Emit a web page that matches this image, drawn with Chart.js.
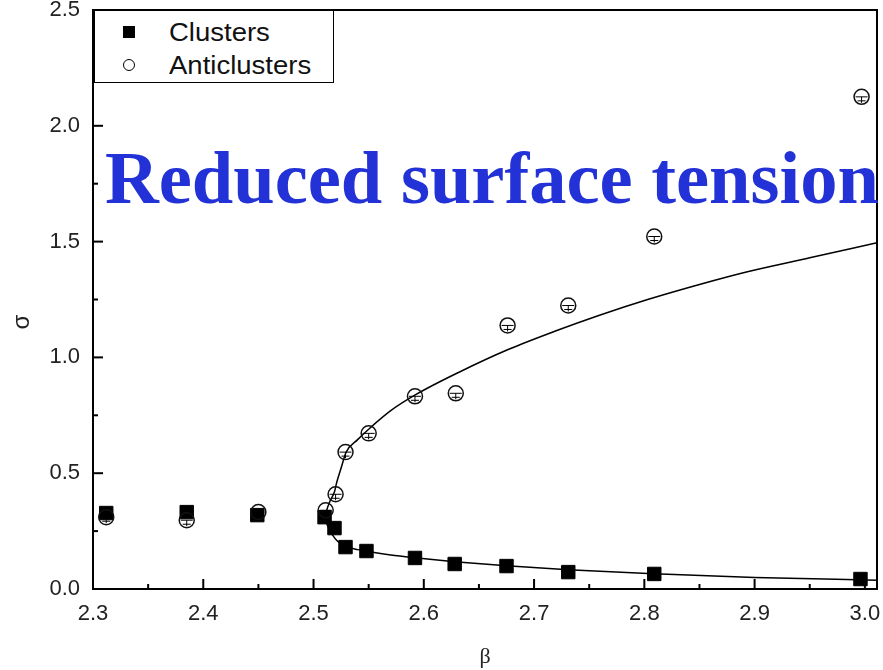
<!DOCTYPE html>
<html>
<head>
<meta charset="utf-8">
<script src="https://cdn.jsdelivr.net/npm/chart.js@4.4.0/dist/chart.umd.min.js"></script>
<style>
  body { margin: 0; background: #fff; }
  #wrap { position: relative; width: 883px; height: 670px; }
  #legend { position: absolute; left: 94px; top: 11px; width: 238px; height: 71px;
            border: 1.5px solid #000; border-top: none; background: #fff;
            font-family: "Liberation Sans", Arial, sans-serif; font-size: 25px; color: #111; }
  .row { position: absolute; left: 0; height: 30px; line-height: 30px; }
  .row span { position: absolute; left: 74px; white-space: nowrap; transform: scaleX(1.1); transform-origin: left center; }
  .sq { position: absolute; left: 28px; top: 9px; width: 12px; height: 12px; background: #000; }
  .ci { position: absolute; left: 28px; top: 9px; width: 10px; height: 10px; border: 1.5px solid #000; border-radius: 50%; }
  #big { position: absolute; left: 105px; top: 141px; font-family: "Liberation Serif", "Times New Roman", serif;
         font-weight: bold; font-size: 74.5px; line-height: 74px; color: rgb(35, 50, 215); white-space: nowrap; }
  #ylab { position: absolute; left: 8px; top: 308px; width: 26px; height: 28px; text-align: center;
          font-family: "Liberation Sans", Arial, sans-serif; font-size: 24px; line-height: 28px; color: #222;
          transform: rotate(-90deg); }
</style>
</head>
<body>
<div id="wrap">
  <canvas id="grafico" width="883" height="670"></canvas>
  <div id="legend">
    <div class="row" style="top:6px"><div class="sq"></div><span>Clusters</span></div>
    <div class="row" style="top:39px"><div class="ci"></div><span>Anticlusters</span></div>
  </div>
  <div id="big">Reduced surface tension</div>
  <div id="ylab">σ</div>
</div>
<script>
// datos
const betaClusters = [2.312, 2.385, 2.449, 2.510, 2.519, 2.529, 2.548, 2.592, 2.628, 2.675, 2.731, 2.809, 2.996];
const sigmaClusters = [0.328, 0.332, 0.319, 0.310, 0.263, 0.181, 0.164, 0.134, 0.108, 0.099, 0.073, 0.065, 0.043];
const betaAnti = [2.312, 2.385, 2.450, 2.511, 2.520, 2.529, 2.550, 2.592, 2.629, 2.676, 2.731, 2.809, 2.997];
const sigmaAnti = [0.310, 0.297, 0.332, 0.340, 0.409, 0.591, 0.672, 0.832, 0.845, 1.138, 1.224, 1.522, 2.125];

// curvas de ajuste (rama superior e inferior)
const betaFitUp = [2.5105, 2.512, 2.515, 2.519, 2.521, 2.5255, 2.5295, 2.540, 2.550, 2.570, 2.593, 2.6315, 2.677, 2.720, 2.758, 2.803, 2.850, 2.8935, 2.950, 3.011];
const sigmaFitUp = [0.30, 0.34, 0.38, 0.42, 0.46, 0.53, 0.59, 0.645, 0.69, 0.77, 0.84, 0.935, 1.035, 1.115, 1.18, 1.25, 1.315, 1.37, 1.43, 1.495];
const betaFitDown = [2.5105, 2.513, 2.517, 2.522, 2.529, 2.540, 2.548, 2.570, 2.592, 2.628, 2.675, 2.731, 2.809, 2.900, 3.011];
const sigmaFitDown = [0.30, 0.27, 0.235, 0.205, 0.185, 0.17, 0.163, 0.147, 0.135, 0.118, 0.100, 0.083, 0.066, 0.050, 0.038];

// ticks
const xTicks = [2.3, 2.4, 2.5, 2.6, 2.7, 2.8, 2.9, 3.0];
const xMinor = [2.35, 2.45, 2.55, 2.65, 2.75, 2.85, 2.95];
const yTicks = [0, 0.5, 1.0, 1.5, 2.0, 2.5];
const yMinor = [0.25, 0.75, 1.25, 1.75, 2.25];

function pts(xs, ys) {
  return xs.map((v, i) => ({ x: v, y: ys[i] }));
}

// marco, ticks hacia adentro y barras de error
const marco = {
  id: 'marco',
  afterDatasetsDraw(chart) {
    const ctx = chart.ctx;
    const meta = chart.getDatasetMeta(3);
    ctx.save();
    ctx.strokeStyle = '#000';
    ctx.lineWidth = 1;
    meta.data.forEach(p => {
      ctx.beginPath();
      ctx.moveTo(p.x - 6, p.y); ctx.lineTo(p.x + 6, p.y);
      ctx.moveTo(p.x - 4, p.y + 4); ctx.lineTo(p.x + 4, p.y + 4);
      ctx.moveTo(p.x, p.y); ctx.lineTo(p.x, p.y + 6);
      ctx.stroke();
    });
    ctx.restore();
  },
  afterDraw(chart) {
    const { ctx, chartArea: a, scales: { x, y } } = chart;
    ctx.save();
    ctx.strokeStyle = '#000';
    ctx.lineWidth = 2;
    ctx.strokeRect(a.left, a.top, a.right - a.left, a.bottom - a.top);
    function tick(x1, y1, x2, y2) {
      ctx.beginPath(); ctx.moveTo(x1, y1); ctx.lineTo(x2, y2); ctx.stroke();
    }
    xTicks.forEach(v => { const px = x.getPixelForValue(v); tick(px, a.bottom, px, a.bottom - 10); });
    xMinor.forEach(v => { const px = x.getPixelForValue(v); tick(px, a.bottom, px, a.bottom - 5); });
    yTicks.forEach(v => { const py = y.getPixelForValue(v); tick(a.left, py, a.left + 10, py); });
    yMinor.forEach(v => { const py = y.getPixelForValue(v); tick(a.left, py, a.left + 5, py); });
    ctx.restore();
  }
};

const tickFont = { family: '"Liberation Sans", Arial, sans-serif', size: 22 };

new Chart(document.getElementById('grafico'), {
  type: 'scatter',
  data: {
    datasets: [
      { label: 'fitUp', data: pts(betaFitUp, sigmaFitUp), showLine: true, pointRadius: 0,
        borderColor: '#000', borderWidth: 1.5, cubicInterpolationMode: 'monotone', order: 4 },
      { label: 'fitDown', data: pts(betaFitDown, sigmaFitDown), showLine: true, pointRadius: 0,
        borderColor: '#000', borderWidth: 1.5, cubicInterpolationMode: 'monotone', order: 3 },
      { label: 'Clusters', data: pts(betaClusters, sigmaClusters), pointStyle: 'rect', pointRadius: 9.5,
        backgroundColor: '#000', borderColor: '#000', borderWidth: 1, order: 2 },
      { label: 'Anticlusters', data: pts(betaAnti, sigmaAnti), pointStyle: 'circle', pointRadius: 7.5,
        backgroundColor: 'rgba(255,255,255,0)', borderColor: '#111', borderWidth: 1.5, order: 1 }
    ]
  },
  options: {
    responsive: false,
    animation: false,
    layout: { autoPadding: false, padding: { top: 10, right: 6, left: 0, bottom: 0 } },
    plugins: { legend: { display: false }, tooltip: { enabled: false } },
    scales: {
      x: {
        type: 'linear', min: 2.3, max: 3.011,
        afterBuildTicks: s => { s.ticks = xTicks.map(v => ({ value: v })); },
        afterFit: s => { s.height = 81; s.paddingLeft = 0; s.paddingRight = 0; },
        grid: { display: true, drawOnChartArea: false, drawTicks: false },
        border: { display: true, color: '#000', width: 2 },
        ticks: { color: '#222', font: tickFont, padding: 12, maxRotation: 0, callback: v => v.toFixed(1) },
        title: { display: true, text: 'β', color: '#222', padding: 0,
                 font: { family: '"Liberation Serif", serif', size: 22 } }
      },
      y: {
        type: 'linear', min: 0, max: 2.5,
        afterBuildTicks: s => { s.ticks = yTicks.map(v => ({ value: v })); },
        afterFit: s => { s.width = 93; s.paddingTop = 0; s.paddingBottom = 0; },
        grid: { display: true, drawOnChartArea: false, drawTicks: false },
        border: { display: true, color: '#000', width: 2 },
        ticks: { color: '#222', font: tickFont, padding: 13, callback: v => v.toFixed(1) }
      }
    }
  },
  plugins: [marco]
});
</script>
</body>
</html>
